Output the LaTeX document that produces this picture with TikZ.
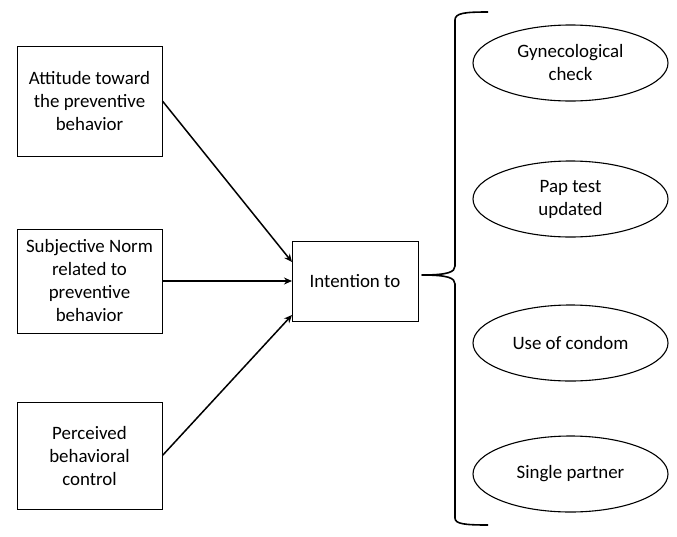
\documentclass[tikz,border=0pt]{standalone}
\usepackage{fontspec}
\setmainfont{Carlito}
\usetikzlibrary{shapes.geometric,arrows.meta}
\begin{document}
\begin{tikzpicture}[x=1pt,y=-1pt,
  txt/.style={font=\fontsize{18.9}{23}\selectfont, align=center},
  boxnode/.style={draw, line width=0.9pt, txt, minimum width=145pt, inner sep=0pt},
  ellnode/.style={draw, ellipse, line width=1.1pt, txt, minimum width=195pt, minimum height=76pt, inner sep=0pt},
  arr/.style={line width=1.5pt, -{Stealth[length=8pt,width=7pt]}}]
\useasboundingbox (0,0) rectangle (677,536);
\node[boxnode, minimum height=110pt] (att) at (89.5,101) {Attitude toward\\the preventive\\behavior};
\node[boxnode, minimum height=104pt] (sn) at (89.5,281) {Subjective Norm\\related to\\preventive\\behavior};
\node[boxnode, minimum height=107pt] (pbc) at (89.5,455.5) {Perceived\\behavioral\\control};
\node[boxnode, minimum width=126pt, minimum height=80pt] (int) at (355,281) {Intention to};
\coordinate (t1) at (292,262);
\coordinate (t2) at (292,281);
\coordinate (t3) at (292,315);
\draw[arr] (att.east) -- (t1);
\draw[arr] (sn.east) -- (t2);
\draw[arr] (pbc.east) -- (t3);
\node[ellnode] (e1) at (570.5,63) {Gynecological\\check};
\node[ellnode] (e2) at (570.5,199) {Pap test\\updated};
\node[ellnode] (e3) at (570.5,343) {Use of condom};
\node[ellnode] (e4) at (570.5,474) {Single partner};
\coordinate (tip) at (422,275);
\draw[line width=1.6pt, line join=round]
  (488,12) .. controls (465,12) and (455,13) .. (455,20)
  -- (455,266) .. controls (455,272) and (448,275) .. (tip)
  .. controls (448,275) and (455,278) .. (455,284)
  -- (455,518) .. controls (455,524) and (465,525) .. (488,525);
\end{tikzpicture}
\end{document}
